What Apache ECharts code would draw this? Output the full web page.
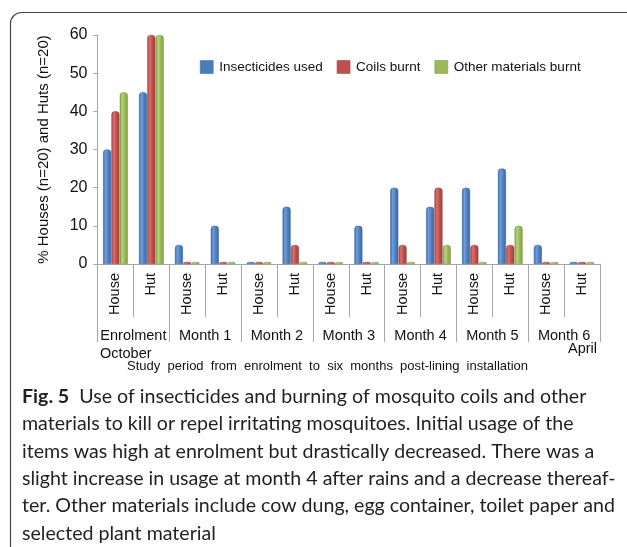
<!DOCTYPE html>
<html>
<head>
<meta charset="utf-8">
<script src="https://cdn.jsdelivr.net/npm/echarts@6/dist/echarts.min.js"></script>
<style>
  html, body { margin: 0; padding: 0; background: #fff; }
  #chart { width: 627px; height: 547px; }
</style>
</head>
<body>
<div id="chart"></div>
<script>
// Household type per study visit
const categories = ['House', 'Hut', 'House', 'Hut', 'House', 'Hut', 'House', 'Hut',
                    'House', 'Hut', 'House', 'Hut', 'House', 'Hut'];
// Study visits (two household types each)
const visits = ['Enrolment', 'Month 1', 'Month 2', 'Month 3', 'Month 4', 'Month 5', 'Month 6'];
// Percentage of households using each method
const insecticidesUsed = [30, 45, 5, 10, 0, 15, 0, 10, 20, 15, 20, 25, 5, 0];
const coilsBurnt       = [40, 60, 0, 0, 0, 5, 0, 0, 5, 20, 5, 5, 0, 0];
const otherBurnt       = [45, 60, 0, 0, 0, 0, 0, 0, 0, 5, 0, 10, 0, 0];
const seriesNames = ['Insecticides used', 'Coils burnt', 'Other materials burnt'];
const yTicks = { min: 0, max: 60, step: 10 };

const captionLines = [
  'materials to kill or repel irritating mosquitoes. Initial usage of the',
  'items was high at enrolment but drastically decreased. There was a',
  'slight increase in usage at month 4 after rains and a decrease thereaf-',
  'ter. Other materials include cow dung, egg container, toilet paper and',
  'selected plant material'
];

const FONT = 'Liberation Sans, Arial, sans-serif';
const CAP_FONT = 'Lato, sans-serif';
const CAP_SIZE = 19.6;

function cylinder(dark, light, mid) {
  return new echarts.graphic.LinearGradient(0, 0, 1, 0, [
    { offset: 0, color: dark },
    { offset: 0.3, color: light },
    { offset: 0.6, color: mid },
    { offset: 1, color: dark }
  ]);
}
const palette = [
  { fill: cylinder('#3a67a3', '#6f9edb', '#4f82c4'), edge: '#35609a', legend: '#4a7ebb' },
  { fill: cylinder('#a3403d', '#d9726f', '#c0504d'), edge: '#9a3b38', legend: '#c0504d' },
  { fill: cylinder('#7f9c45', '#b8d67a', '#9bbb59'), edge: '#789640', legend: '#9bbb59' }
];

function barSeries(name, values, idx) {
  return {
    name: name,
    type: 'bar',
    xAxisIndex: 0,
    data: values,
    barWidth: 8,
    barGap: '4%',
    barMinHeight: 2,
    itemStyle: {
      color: palette[idx].fill,
      borderColor: palette[idx].edge,
      borderWidth: 0.5,
      borderRadius: [3, 3, 0, 0]
    }
  };
}

const chart = echarts.init(document.getElementById('chart'), null, { renderer: 'canvas' });

const captionGraphics = captionLines.map((line, i) => ({
  type: 'text',
  left: 22,
  top: 414 + i * 27.3,
  style: { text: line, font: CAP_SIZE + 'px ' + CAP_FONT, fill: '#231f20' }
}));

chart.setOption({
  animation: false,
  textStyle: { fontFamily: FONT },
  grid: { left: 97.5, right: 27, top: 35, bottom: 283, containLabel: false },
  legend: {
    data: seriesNames.map((n, i) => ({
      name: n,
      itemStyle: { color: palette[i].legend, borderColor: palette[i].edge, borderWidth: 0.5 }
    })),
    left: 195,
    top: 55,
    itemWidth: 13,
    itemHeight: 13,
    itemGap: 14,
    icon: 'rect',
    textStyle: { fontSize: 13.5, color: '#111', fontFamily: FONT, padding: [0, 0, 0, 1] }
  },
  xAxis: [
    {
      type: 'category',
      position: 'bottom',
      data: categories,
      axisLine: { show: true, lineStyle: { color: '#a6a6a6', width: 1 } },
      axisTick: { show: true, alignWithLabel: false, interval: 0, length: 53,
                  lineStyle: { color: '#a6a6a6', width: 1 } },
      axisLabel: { interval: 0, rotate: 90, margin: 9, fontSize: 14.5, color: '#111', fontFamily: FONT }
    },
    {
      type: 'category',
      position: 'bottom',
      offset: 0,
      data: visits,
      axisLine: { show: false },
      axisTick: { show: true, interval: 0, length: 78, lineStyle: { color: '#a6a6a6', width: 1 } },
      axisLabel: { interval: 0, margin: 64, fontSize: 14.5, color: '#111', fontFamily: FONT }
    }
  ],
  yAxis: {
    type: 'value',
    min: yTicks.min,
    max: yTicks.max,
    interval: yTicks.step,
    name: '% Houses (n=20) and Huts (n=20)',
    nameLocation: 'middle',
    nameGap: 46,
    nameTextStyle: { fontSize: 15, color: '#111', fontFamily: FONT },
    axisLine: { show: true, lineStyle: { color: '#a6a6a6' } },
    axisTick: { show: true, length: 4, lineStyle: { color: '#a6a6a6' } },
    splitLine: { show: false },
    axisLabel: { fontSize: 16, color: '#111', margin: 10, fontFamily: FONT }
  },
  series: [
    barSeries(seriesNames[0], insecticidesUsed, 0),
    barSeries(seriesNames[1], coilsBurnt, 1),
    barSeries(seriesNames[2], otherBurnt, 2)
  ],
  graphic: [
    {
      type: 'rect',
      shape: { x: 10.5, y: 12.5, width: 680, height: 600, r: 11 },
      style: { fill: 'none', stroke: '#444', lineWidth: 1.2 },
      silent: true
    },
    { type: 'text', left: 100, top: 346, style: { text: 'October', font: '14.5px ' + FONT, fill: '#111' } },
    { type: 'text', left: 568, top: 341, style: { text: 'April', font: '14.5px ' + FONT, fill: '#111' } },
    {
      type: 'text', left: 127, top: 360,
      style: { text: 'Study  period  from  enrolment  to  six  months  post-lining  installation',
               font: '13px ' + FONT, fill: '#111' }
    },
    {
      type: 'text', left: 22, top: 387,
      style: {
        text: '{b|Fig. 5}  Use of insecticides and burning of mosquito coils and other',
        font: CAP_SIZE + 'px ' + CAP_FONT, fill: '#231f20',
        rich: { b: { font: 'bold ' + CAP_SIZE + 'px ' + CAP_FONT, fill: '#231f20' } }
      }
    }
  ].concat(captionGraphics)
});
</script>
</body>
</html>
